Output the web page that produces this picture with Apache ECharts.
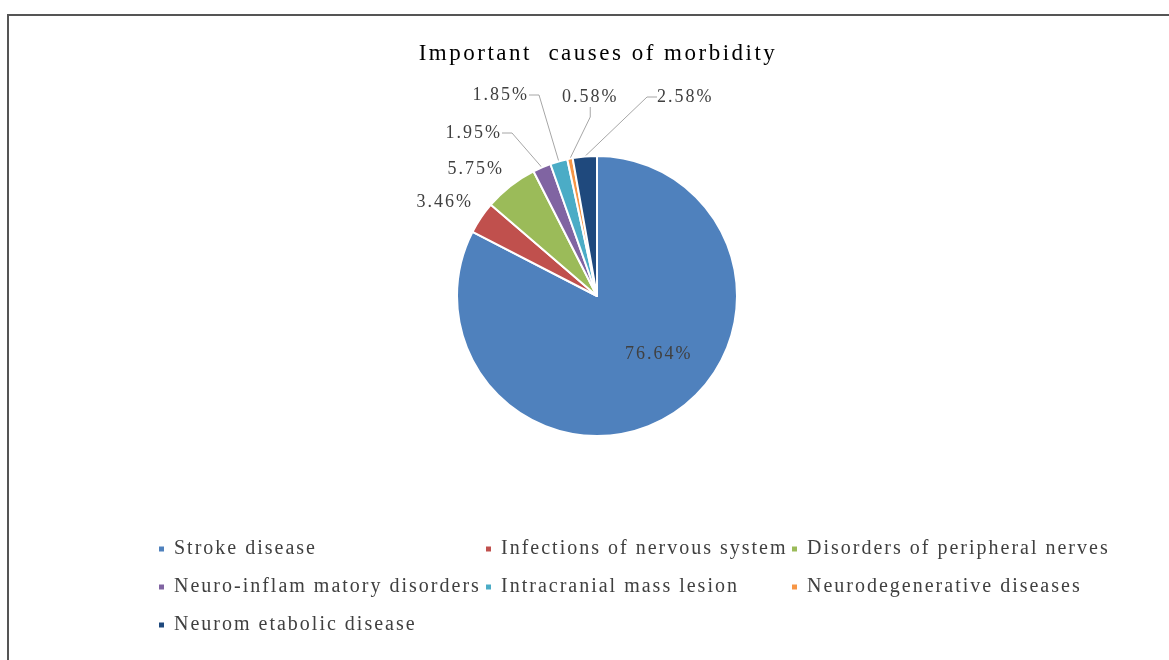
<!DOCTYPE html>
<html>
<head>
<meta charset="utf-8">
<script src="https://cdn.jsdelivr.net/npm/echarts@6/dist/echarts.min.js"></script>
<style>
html,body{margin:0;padding:0;background:#fff;}
#c{width:1169px;height:660px;}
</style>
</head>
<body>
<div id="c"></div>
<script>
const categories = ["Stroke disease","Infections of nervous system","Disorders of peripheral nerves","Neuro-inflammatory disorders","Intracranial mass lesion","Neurodegenerative diseases","Neurometabolic disease"];
const legendNames = ["Stroke disease","Infections of nervous system","Disorders of peripheral nerves","Neuro-inflam matory disorders","Intracranial mass lesion","Neurodegenerative diseases","Neurom etabolic disease"];
const values = [76.64, 3.46, 5.75, 1.95, 1.85, 0.58, 2.58];
const colors = ["#4F81BD","#C0504D","#9BBB59","#8064A2","#4BACC6","#F79646","#1F497D"];
const titleText = "Important  causes of morbidity";

// label placement (annotation layout only)
const labelPlace = [[625,354,'left'], [473,202,'right'], [504,169,'right'], [502,133,'right'], [529,95,'right'], [562,97,'left'], [657,97,'left']];
const showLeader = [false, false, false, true, true, true, true];

// wider letter spacing like the original rendering
(function(){
  const proto = CanvasRenderingContext2D.prototype;
  if (!('letterSpacing' in proto)) return;
  const oF = proto.fillText, oS = proto.strokeText, oM = proto.measureText;
  function setLS(ctx){
    const m = /(\d+(?:\.\d+)?)px/.exec(ctx.font || '');
    const size = m ? parseFloat(m[1]) : 12;
    ctx.letterSpacing = size >= 22 ? '2.5px' : '2px';
  }
  proto.fillText = function(){ setLS(this); return oF.apply(this, arguments); };
  proto.strokeText = function(){ setLS(this); return oS.apply(this, arguments); };
  proto.measureText = function(){ setLS(this); return oM.apply(this, arguments); };
})();

const font = "'Liberation Serif','Times New Roman',serif";
const chart = echarts.init(document.getElementById('c'));
const data = categories.map((c,i)=>{
  const d = {name: legendNames[i], value: values[i], itemStyle:{color: colors[i]}, labelLine:{show: showLeader[i]}};
  if(i===0){ d.label = {position:'inside', color:'#404040'}; }
  return d;
});
const legendStyle = {
  orient:'vertical', icon:'rect', itemWidth:7, itemHeight:7, itemGap:16, padding:0,
  textStyle:{fontFamily:font, fontSize:20, color:'#404040', lineHeight:20, padding:[0,0,0,4]}
};
chart.setOption({
  animation:false,
  color: colors,
  title:{text:titleText, left:593, textAlign:'center', top:36, textStyle:{fontFamily:font, fontSize:23, fontWeight:'normal', color:'#000'}},
  graphic:[{type:'rect', shape:{x:8, y:15, width:1200, height:700}, style:{fill:'none', stroke:'#555', lineWidth:2}, silent:true}],
  legend:[
    Object.assign({left:157, top:538, data:[legendNames[0],legendNames[3],legendNames[6]]}, legendStyle),
    Object.assign({left:484, top:538, data:[legendNames[1],legendNames[4]]}, legendStyle),
    Object.assign({left:790, top:538, data:[legendNames[2],legendNames[5]]}, legendStyle)
  ],
  series:[{
    type:'pie',
    center:[597,296],
    radius:[0,140],
    startAngle:90,
    clockwise:true,
    avoidLabelOverlap:false,
    data:data,
    itemStyle:{borderColor:'#fff', borderWidth:2},
    label:{
      show:true, fontFamily:font, fontSize:18, color:'#404040',
      formatter:(p)=>p.value.toFixed(2)+'%'
    },
    labelLine:{show:true, length:20, length2:10, lineStyle:{color:'#a6a6a6', width:1}},
    labelLayout:(params)=>{
      const p = labelPlace[params.dataIndex];
      if(!p) return {};
      return {x:p[0], y:p[1], align:p[2], verticalAlign:'middle'};
    },
    emphasis:{disabled:true}
  }]
});
</script>
</body>
</html>
